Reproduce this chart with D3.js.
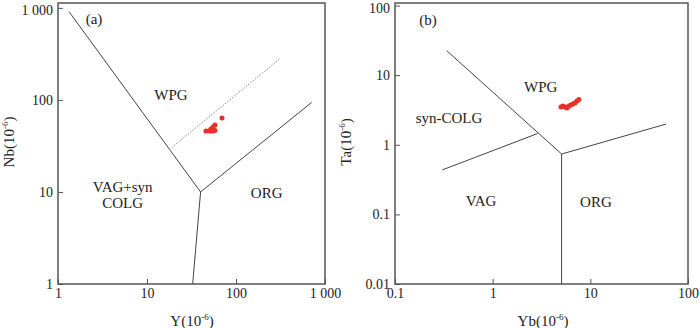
<!DOCTYPE html>
<html>
<head>
<meta charset="utf-8">
<script src="https://cdn.jsdelivr.net/npm/d3@7"></script>
<style>
  body { margin: 0; background: #fff; }
  svg text { font-family: "Liberation Serif", "Times New Roman", serif; fill: #222; }
</style>
</head>
<body>
<div id="chart"></div>
<script>
// ---- data ----
// (a) Y vs Nb
var yNbSamples = [[46, 46], [49.7, 46], [52.4, 46], [55.2, 46], [58.1, 46.5], [52.4, 48.4], [55.2, 50.9], [58.1, 53.5], [69.6, 63.7]];
var yNbFields = [
    [[1.33, 910], [40, 10]],
    [[40, 10], [709, 94]],
    [[40, 10], [32.6, 1]]
];
var yNbDashed = [[18.9, 30.3], [307, 277]];
var yNbLabels = [
    { text: "WPG", x: 18.6, y: 113 },
    { text: "VAG+syn", x: 5.33, y: 11.4 },
    { text: "COLG", x: 5.33, y: 7.7 },
    { text: "ORG", x: 221, y: 9.8 }
];
var yNbTicks = [1, 10, 100, 1000];
var yNbTickText = ["1", "10", "100", "1 000"];

// (b) Yb vs Ta
var ybTaSamples = [[5.0, 3.49], [5.24, 3.61], [5.5, 3.49], [5.76, 3.38], [6.04, 3.61], [6.33, 3.73], [6.63, 3.85], [6.95, 3.98], [7.29, 4.25], [7.64, 4.47]];
var ybTaFields = [
    [[0.338, 22.5], [5.08, 0.736]],
    [[5.08, 0.736], [59.4, 1.98]],
    [[5.08, 0.736], [5.08, 0.01]],
    [[0.305, 0.435], [2.89, 1.45]]
];
var ybTaLabels = [
    { text: "WPG", x: 3.1, y: 6.75 },
    { text: "syn-COLG", x: 0.357, y: 2.45 },
    { text: "VAG", x: 0.76, y: 0.155 },
    { text: "ORG", x: 11.4, y: 0.151 }
];
var ybTaXTicks = [0.1, 1, 10, 100];
var ybTaXTickText = ["0.1", "1", "10", "100"];
var ybTaYTicks = [0.01, 0.1, 1, 10, 100];
var ybTaYTickText = ["0.01", "0.1", "1", "10", "100"];

var svg = d3.select("#chart")
    .append("svg")
    .attr("width", 700)
    .attr("height", 328);

function drawPanel(opt) {
    var x = d3.scaleLog().domain(opt.xDomain).range(opt.xRange);
    var y = d3.scaleLog().domain(opt.yDomain).range(opt.yRange);
    var g = svg.append("g");

    var xAxis = d3.axisBottom(x)
        .tickValues(opt.xTicks)
        .tickFormat((d, i) => opt.xTickText[i])
        .tickSizeInner(-5).tickSizeOuter(0).tickPadding(4);
    var yAxis = d3.axisLeft(y)
        .tickValues(opt.yTicks)
        .tickFormat((d, i) => opt.yTickText[i])
        .tickSizeInner(-5).tickSizeOuter(0).tickPadding(5);

    var gx = g.append("g")
        .attr("transform", `translate(0,${opt.yRange[0]})`)
        .call(xAxis);
    var gy = g.append("g")
        .attr("transform", `translate(${opt.xRange[0]},0)`)
        .call(yAxis);
    [gx, gy].forEach(function(a) {
        a.select(".domain").remove();
        a.selectAll("line").attr("stroke", "#555");
        a.selectAll("text").attr("font-size", 14).attr("font-family", "Liberation Serif").attr("fill", "#222");
    });
    // keep the top y label inside the page
    gy.selectAll(".tick:last-of-type text").attr("dy", "0.5em");

    // frame
    g.append("rect")
        .attr("x", opt.xRange[0])
        .attr("y", opt.top)
        .attr("width", opt.xRange[1] - opt.xRange[0])
        .attr("height", opt.yRange[0] - opt.top)
        .attr("fill", "none")
        .attr("stroke", "#555")
        .attr("stroke-width", 1.5);

    var line = d3.line().x(d => x(d[0])).y(d => y(d[1]));

    g.selectAll(".field")
        .data(opt.fields)
        .enter()
        .append("path")
        .attr("d", line)
        .attr("fill", "none")
        .attr("stroke", "#444")
        .attr("stroke-width", 1);

    if (opt.dashed) {
        g.append("path")
            .attr("d", line(opt.dashed))
            .attr("fill", "none")
            .attr("stroke", "#888")
            .attr("stroke-width", 1)
            .attr("stroke-dasharray", "1.5,1.5");
    }

    g.selectAll(".lab")
        .data(opt.labels)
        .enter()
        .append("text")
        .attr("x", d => x(d.x))
        .attr("y", d => y(d.y))
        .attr("dy", "0.35em")
        .attr("text-anchor", "middle")
        .attr("font-size", 15)
        .text(d => d.text);

    g.selectAll(".pt")
        .data(opt.samples)
        .enter()
        .append("circle")
        .attr("cx", d => x(d[0]))
        .attr("cy", d => y(d[1]))
        .attr("r", 2.5)
        .attr("fill", "#e8302a");

    g.append("text")
        .attr("x", opt.tag[0])
        .attr("y", opt.tag[1])
        .attr("dy", "0.35em")
        .attr("text-anchor", "middle")
        .attr("font-size", 15)
        .text(opt.tagText);

    // axis titles
    var xt = g.append("text")
        .attr("x", opt.xTitle[0])
        .attr("y", opt.xTitle[1])
        .attr("text-anchor", "middle")
        .attr("font-size", 15);
    xt.append("tspan").text(opt.xName + "(10");
    xt.append("tspan").attr("font-size", 9).attr("dy", -6).text("-6");
    xt.append("tspan").attr("dy", 6).text(")");

    var yt = g.append("text")
        .attr("transform", `translate(${opt.yTitle[0]},${opt.yTitle[1]}) rotate(-90)`)
        .attr("text-anchor", "middle")
        .attr("font-size", 15);
    yt.append("tspan").text(opt.yName + "(10");
    yt.append("tspan").attr("font-size", 9).attr("dy", -6).text("-6");
    yt.append("tspan").attr("dy", 6).text(")");
}

drawPanel({
    xDomain: [1, 1000], xRange: [58, 325],
    yDomain: [1, 1130], yRange: [284, 3], top: 3,
    xTicks: yNbTicks, xTickText: yNbTickText,
    yTicks: yNbTicks, yTickText: yNbTickText,
    fields: yNbFields, dashed: yNbDashed, labels: yNbLabels, samples: yNbSamples,
    tag: [94, 19], tagText: "(a)",
    xName: "Y", yName: "Nb",
    xTitle: [192, 326], yTitle: [14, 142]
});

drawPanel({
    xDomain: [0.1, 100], xRange: [395, 688],
    yDomain: [0.01, 100], yRange: [284, 5.5], top: 3,
    xTicks: ybTaXTicks, xTickText: ybTaXTickText,
    yTicks: ybTaYTicks, yTickText: ybTaYTickText,
    fields: ybTaFields, dashed: null, labels: ybTaLabels, samples: ybTaSamples,
    tag: [428, 20], tagText: "(b)",
    xName: "Yb", yName: "Ta",
    xTitle: [543, 326], yTitle: [351, 142]
});
</script>
</body>
</html>
